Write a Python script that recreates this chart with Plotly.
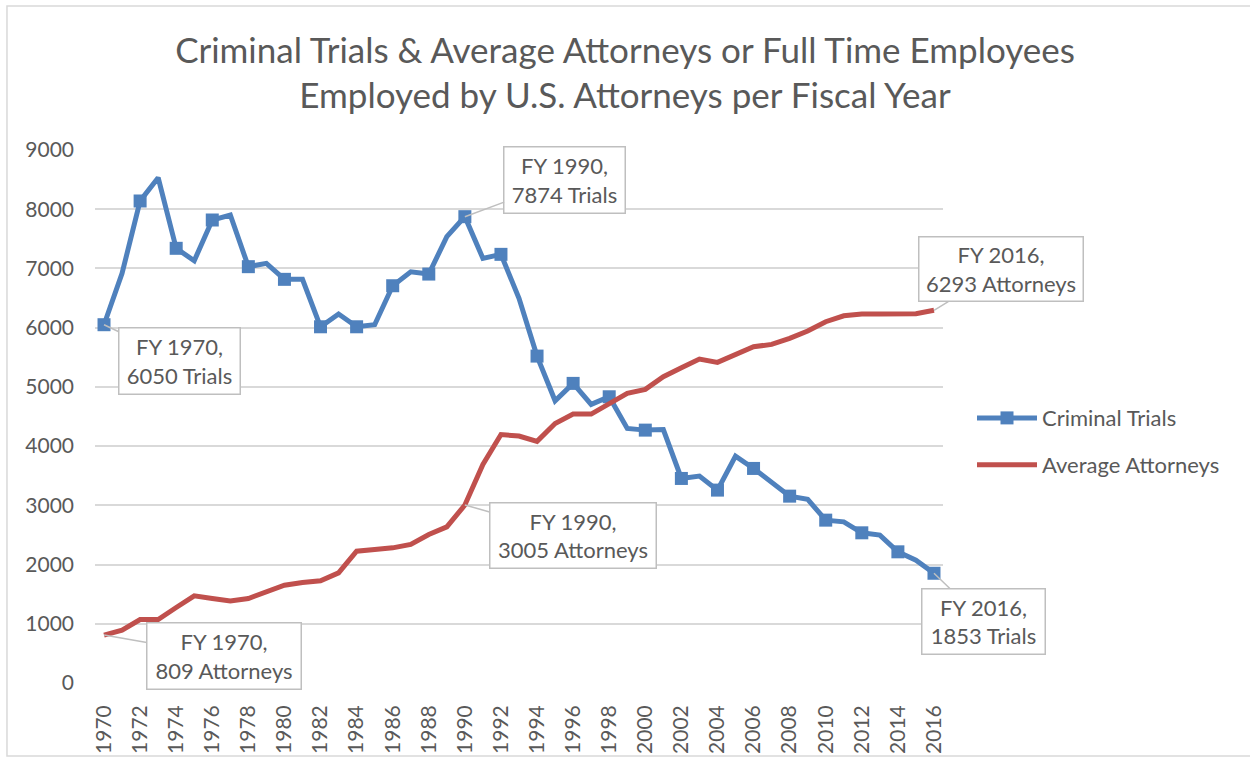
import plotly.graph_objects as go

# Fiscal years and series values
years = list(range(1970, 2017))

criminal_trials = [
    6050, 6917, 8139, 8532, 7340, 7130, 7818, 7902, 7030, 7086,
    6816, 6816, 6015, 6230, 6015, 6050, 6708, 6944, 6905, 7536,
    7874, 7170, 7238, 6495, 5520, 4765, 5059, 4704, 4833, 4299,
    4270, 4280, 3454, 3493, 3257, 3831, 3623, 3397, 3155, 3100,
    2750, 2721, 2536, 2497, 2215, 2074, 1853,
]

average_attorneys = [
    809, 892, 1072, 1072, 1275, 1471, 1427, 1387, 1427, 1534,
    1652, 1698, 1725, 1860, 2226, 2255, 2282, 2340, 2508, 2637,
    3005, 3691, 4195, 4170, 4080, 4383, 4541, 4541, 4709, 4890,
    4958, 5171, 5323, 5470, 5414, 5537, 5677, 5718, 5819, 5943,
    6100, 6201, 6230, 6230, 6225, 6236, 6293,
]

y_ticks = [0, 1000, 2000, 3000, 4000, 5000, 6000, 7000, 8000, 9000]

title_text = ("Criminal Trials & Average Attorneys or Full Time Employees<br>"
              "Employed by U.S. Attorneys per Fiscal Year")

BLUE = "#4F81BD"
RED = "#C0504D"
TEXT = "#595959"
GRID = "#D9D9D9"
FONT = "Lato"

# Markers only on even years (Excel style marker every other point)
marker_colors = [BLUE if y % 2 == 0 else "rgba(0,0,0,0)" for y in years]

fig = go.Figure()

fig.add_trace(go.Scatter(
    x=years,
    y=criminal_trials,
    name="Criminal Trials",
    mode="lines+markers",
    line=dict(color=BLUE, width=5),
    marker=dict(symbol="square", size=13, color=marker_colors),
    legend="legend",
))

fig.add_trace(go.Scatter(
    x=years,
    y=average_attorneys,
    name="Average Attorneys",
    mode="lines",
    line=dict(color=RED, width=5),
    legend="legend2",
))

# Callout labels: x, y, text, offset of box centre in px, box size
callouts = [
    (1970, criminal_trials[0], "FY 1970,<br>6050 Trials", 75, 36, 116, 61),
    (1990, criminal_trials[20], "FY 1990,<br>7874 Trials", 100, -37, 116, 61),
    (2016, average_attorneys[-1], "FY 2016,<br>6293 Attorneys", 67, -41, 159, 59),
    (1970, average_attorneys[0], "FY 1970,<br>809 Attorneys", 120, 21, 149, 61),
    (1990, average_attorneys[20], "FY 1990,<br>3005 Attorneys", 108, 30, 161, 60),
    (2016, criminal_trials[-1], "FY 2016,<br>1853 Trials", 50, 48, 118, 60),
]

for x, y, txt, ax, ay, w, h in callouts:
    fig.add_annotation(
        x=x, y=y, text=txt,
        showarrow=True, arrowhead=0, arrowwidth=1.5, arrowcolor="#BFBFBF",
        ax=ax, ay=ay,
        bgcolor="white", bordercolor="#BFBFBF", borderwidth=1.5, borderpad=2,
        width=w, height=h,
        font=dict(family=FONT, size=22, color=TEXT),
    )

# Outer chart border
fig.add_shape(
    type="rect", xref="paper", yref="paper",
    x0=-0.1038, x1=1.37, y0=-0.137, y1=1.27,
    line=dict(color=GRID, width=1.5), fillcolor="rgba(0,0,0,0)", layer="below",
)

fig.update_layout(
    width=1250,
    height=759,
    margin=dict(l=95, r=307, t=150, b=76),
    plot_bgcolor="white",
    paper_bgcolor="white",
    font=dict(family=FONT, size=21, color=TEXT),
    title=dict(
        text=title_text,
        x=0.5, xanchor="center",
        xref="container", yref="container",
        y=0.917, yanchor="middle",
        font=dict(family=FONT, size=35, color=TEXT),
    ),
    xaxis=dict(
        range=[1969.5, 2016.5],
        tickmode="linear", tick0=1970, dtick=2,
        tickangle=-90,
        showgrid=False, zeroline=False, showline=False,
        ticklabelstandoff=17,
        automargin=False,
        tickfont=dict(family=FONT, size=21, color=TEXT),
    ),
    yaxis=dict(
        range=[0, 9000],
        tickvals=y_ticks,
        showgrid=True, gridcolor=GRID, gridwidth=1.5,
        zeroline=False, showline=False,
        ticklabelstandoff=20,
        automargin=False,
        tickfont=dict(family=FONT, size=21, color=TEXT),
    ),
    legend=dict(
        x=1.0342, xanchor="left", y=0.497, yanchor="middle", itemwidth=60,
        bgcolor="rgba(0,0,0,0)", font=dict(family=FONT, size=22, color=TEXT),
    ),
    legend2=dict(
        x=1.0342, xanchor="left", y=0.409, yanchor="middle", itemwidth=60,
        bgcolor="rgba(0,0,0,0)", font=dict(family=FONT, size=22, color=TEXT),
    ),
    showlegend=True,
)

# page body has a default 8px margin; drop it so the figure fills the window
fig.write_html(
    "out.html",
    config={"displayModeBar": False},
    post_script="document.body.style.margin='0';",
)
